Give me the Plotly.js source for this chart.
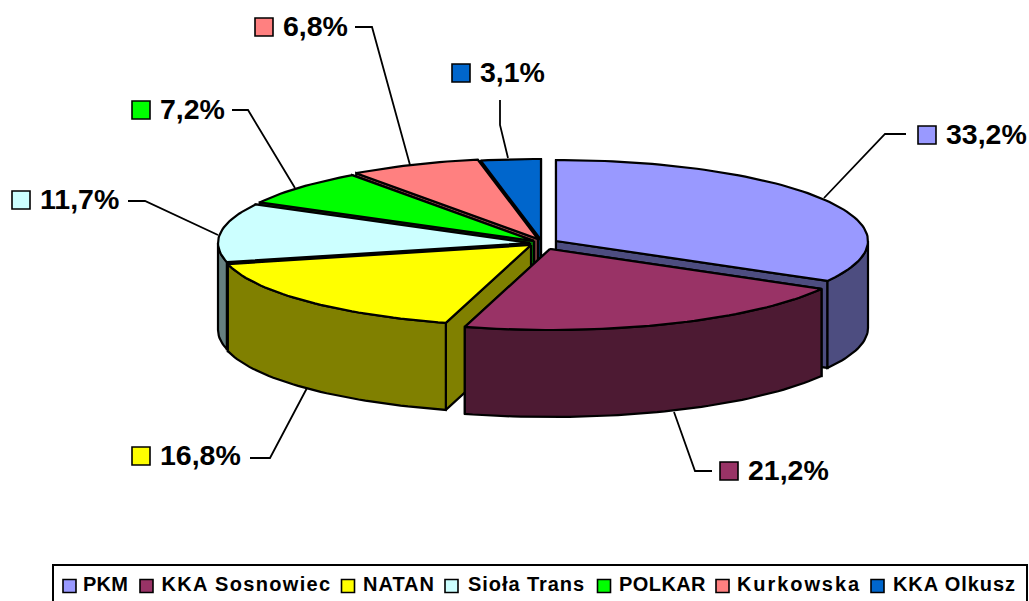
<!DOCTYPE html>
<html><head><meta charset="utf-8">
<script src="https://cdn.plot.ly/plotly-3.0.1.min.js"></script>
<style>
html,body{margin:0;padding:0;background:#fff;overflow:hidden}
</style></head><body>
<div id="chart" style="width:1029px;height:601px"></div>
<script>
const categories = ["PKM","KKA Sosnowiec","NATAN","Sioła Trans","POLKAR","Kurkowska","KKA Olkusz"];
const values = [33.2,21.2,16.8,11.7,7.2,6.8,3.1];
const labels = ["33,2%","21,2%","16,8%","11,7%","7,2%","6,8%","3,1%"];
const topColors = ["#9999FF","#993366","#FFFF00","#CCFFFF","#00FF00","#FF8080","#0066CC"];
const wallColors = ["#4D4D80","#4D1A33","#808000","#668080","#008000","#804040","#003366"];
// exploded apex of each slice, in page pixels
const apexX = [556,550,531,530,534,538,541];
const apexY = [241,249,245,243,241,239,240];
const labelX = [927,729,141,21,141,264,461];
const labelY = [135,471,456,200,110,27,73];
const leaderX = [[906,885,824],[712,695,674],[250,270,307],[128,145,218],[232,248,295],[355,372,410],[500,500,508]];
const leaderY = [[134,134,198],[471,471,412],[458,458,388],[201,201,235],[110,110,188],[27,27,165],[100,125,158]];
const legendKeyX = [69.5,146.5,348,451.5,604,722.5,877.5];
const legendTextX = [83,161.5,363,468,619,737,893];
const legendTextW = [45,170,72,117,87,124,123];
const RX = 312, RY = 81, DEPTH = 87, LEGEND_Y = 586;

const total = values.reduce((a,b)=>a+b,0);
const pt = (i,deg,dz=0)=>{const r=deg*Math.PI/180;
  return [apexX[i]+RX*Math.sin(r), apexY[i]-RY*Math.cos(r)+dz];};
const arc = (i,a,b,dz=0)=>{const n=Math.max(2,Math.ceil(Math.abs(b-a)/1.5));const o=[];
  for(let k=0;k<=n;k++)o.push(pt(i,a+(b-a)*k/n,dz));return o;};
const poly = (pts,fill)=>({type:'scatter',mode:'lines',x:pts.map(p=>p[0]),y:pts.map(p=>p[1]),
  fill:'toself',fillcolor:fill,line:{color:'#000',width:2.2},showlegend:false,hoverinfo:'skip'});

let c=0; const spans=values.map(v=>{const s=[c/total*360,(c+v)/total*360];c+=v;return s;});
const traces=[];
leaderX.forEach((xs,i)=>traces.push({type:'scatter',mode:'lines',x:xs,y:leaderY[i],
  line:{color:'#000',width:1.8},showlegend:false,hoverinfo:'skip'}));
// back-to-front paint order
[6,5,4,3,2,0,1].forEach(i=>{
  const [a,b]=spans[i], ap=[apexX[i],apexY[i]], apD=[apexX[i],apexY[i]+DEPTH];
  [a,b].sort((p,q)=>pt(i,p)[1]-pt(i,q)[1]).forEach(t=>{
    traces.push(poly([ap,pt(i,t),pt(i,t,DEPTH),apD,ap],wallColors[i]));
  });
  const wa=Math.max(a,90), wb=Math.min(b,270);
  if(wb>wa){
    const w=arc(i,wa,wb).concat(arc(i,wb,wa,DEPTH)); w.push(w[0]);
    traces.push(poly(w,wallColors[i]));
  }
  const topPts=[ap].concat(arc(i,a,b)); topPts.push(ap);
  traces.push(poly(topPts,topColors[i]));
});
// data labels and legend row
const tf=(size)=>({family:'Liberation Sans',size:size,color:'#000',weight:700});
categories.forEach((name,i)=>{
  traces.push({type:'scatter',mode:'markers',name:name,x:[labelX[i]],y:[labelY[i]],
    marker:{symbol:'square',size:18,color:topColors[i],line:{color:'#000',width:1.6}},
    showlegend:false,hoverinfo:'skip',cliponaxis:false});
  traces.push({type:'scatter',mode:'text',name:name,x:[labelX[i]+19],y:[labelY[i]+2],text:[labels[i]],
    textposition:'middle right',textfont:tf(28.5),showlegend:false,hoverinfo:'skip',cliponaxis:false});
  traces.push({type:'scatter',mode:'markers',name:name,x:[legendKeyX[i]],y:[LEGEND_Y],
    marker:{symbol:'square',size:13,color:topColors[i],line:{color:'#000',width:1.6}},
    showlegend:false,hoverinfo:'skip',cliponaxis:false});
  traces.push({type:'scatter',mode:'text',name:name,x:[legendTextX[i]],y:[LEGEND_Y],text:[name],
    textposition:'middle right',textfont:tf(20),showlegend:false,hoverinfo:'skip',cliponaxis:false});
});

const layout={width:1029,height:601,margin:{l:0,r:0,t:0,b:0,autoexpand:false},
  paper_bgcolor:'#fff',plot_bgcolor:'#fff',showlegend:false,
  xaxis:{range:[0,1029],visible:false,fixedrange:true},
  yaxis:{range:[601,0],visible:false,fixedrange:true},
  shapes:[{type:'rect',xref:'x',yref:'y',x0:53,x1:1027,y0:565,y1:612,line:{color:'#000',width:2},fillcolor:'rgba(0,0,0,0)'}]
};
Plotly.newPlot('chart',traces,layout,{displayModeBar:false,staticPlot:true}).then(()=>{
  document.querySelectorAll('#chart .textpoint text').forEach(t=>{
    const i=categories.indexOf(t.textContent);
    if(i>=0){const n=t.textContent.length;
      t.style.letterSpacing=((legendTextW[i]-t.getComputedTextLength())/n)+'px';}
  });
});
</script></body></html>
